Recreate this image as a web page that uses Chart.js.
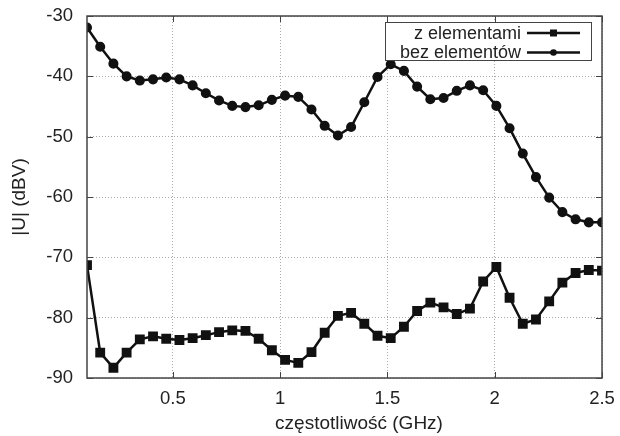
<!DOCTYPE html>
<html>
<head>
<meta charset="utf-8">
<script src="https://cdn.jsdelivr.net/npm/chart.js@4/dist/chart.umd.min.js"></script>
<style>
  html, body { margin: 0; padding: 0; background: #fff; }
  #wrap { width: 620px; height: 436px; }
</style>
</head>
<body>
<div id="wrap"><canvas id="c"></canvas></div>
<script>
// --- DANE ---
const N_POINTS = 40;
const F_START = 0.1, F_END = 2.5;
const X_TICKS = [0.5, 1, 1.5, 2, 2.5];
const Y_TICKS = [-90, -80, -70, -60, -50, -40, -30];

const LABEL_Z = 'z elementami';
const LABEL_BEZ = 'bez elementów';
const X_TITLE = 'częstotliwość (GHz)';
const Y_TITLE = '|U| (dBV)';

// z elementami (kwadraty)
const zElementami = [
  -71.3, -85.8, -88.3, -85.8, -83.6, -83.1, -83.5, -83.7, -83.4, -82.9,
  -82.4, -82.1, -82.2, -83.5, -85.4, -87.0, -87.5, -85.7, -82.5, -79.7,
  -79.2, -81.0, -83.0, -83.4, -81.5, -78.9, -77.5, -78.3, -79.4, -78.5,
  -74.0, -71.6, -76.7, -81.0, -80.3, -77.3, -74.2, -72.6, -72.1, -72.2
];

// bez elementów (kółka)
const bezElementow = [
  -31.9, -35.1, -37.9, -40.0, -40.7, -40.5, -40.2, -40.5, -41.5, -42.8,
  -44.0, -44.9, -45.1, -44.8, -43.9, -43.2, -43.4, -45.5, -48.2, -49.8,
  -48.4, -44.3, -40.1, -38.0, -39.1, -41.7, -43.8, -43.6, -42.4, -41.5,
  -42.3, -44.9, -48.6, -52.8, -56.7, -60.1, -62.5, -63.7, -64.2, -64.2
];

// częstotliwości: równomiernie od 0.1 do 2.5 GHz (oś pomiarowa)
const freqs = [];
for (let i = 0; i < N_POINTS; i++) {
  freqs.push(F_START + i * (F_END - F_START) / (N_POINTS - 1));
}

const toXY = (vals) => vals.map((v, i) => ({ x: freqs[i], y: v }));

const FONT = "'Liberation Sans', Arial, sans-serif";
const TEXT_COLOR = '#222';

// --- PLUGINY ---
// krótkie znaczniki podziałki do wewnątrz (na wszystkich czterech bokach) + ramka
const innerTicks = {
  id: 'innerTicks',
  afterDatasetsDraw(chart) {
    const { ctx, chartArea: a, scales } = chart;
    const len = 6;
    ctx.save();
    ctx.strokeStyle = '#444';
    ctx.lineWidth = 1;
    ctx.beginPath();
    X_TICKS.forEach(t => {
      const px = Math.round(scales.x.getPixelForValue(t)) + 0.5;
      ctx.moveTo(px, a.bottom); ctx.lineTo(px, a.bottom - len);
      ctx.moveTo(px, a.top); ctx.lineTo(px, a.top + len);
    });
    Y_TICKS.forEach(t => {
      const py = Math.round(scales.y.getPixelForValue(t)) + 0.5;
      ctx.moveTo(a.left, py); ctx.lineTo(a.left + len, py);
      ctx.moveTo(a.right, py); ctx.lineTo(a.right - len, py);
    });
    ctx.stroke();
    ctx.lineWidth = 1.5;
    ctx.strokeRect(a.left, a.top, a.right - a.left, a.bottom - a.top);

    // podpis osi X (w oryginale lekko przesunięty w prawo)
    ctx.fillStyle = TEXT_COLOR;
    ctx.font = '19px ' + FONT;
    ctx.textAlign = 'center';
    ctx.textBaseline = 'middle';
    ctx.fillText(X_TITLE, 359, 424);
    ctx.restore();
  }
};

// legenda w stylu gnuplot: tekst wyrównany do prawej, potem linia z markerem
const gnuLegend = {
  id: 'gnuLegend',
  afterDatasetsDraw(chart) {
    const { ctx } = chart;
    const box = { x: 385.5, y: 22.5, w: 206, h: 38 };
    ctx.save();
    ctx.fillStyle = '#fff';
    ctx.fillRect(box.x, box.y, box.w, box.h);
    ctx.strokeStyle = '#444';
    ctx.lineWidth = 1;
    ctx.strokeRect(box.x, box.y, box.w, box.h);
    ctx.font = '18px ' + FONT;
    ctx.textAlign = 'right';
    ctx.textBaseline = 'middle';
    chart.data.datasets.forEach((ds, i) => {
      const y = box.y + 10.5 + i * 19.5;
      ctx.fillStyle = TEXT_COLOR;
      ctx.fillText(ds.label, 521, y + 1);
      ctx.strokeStyle = ds.borderColor;
      ctx.lineWidth = 2.5;
      ctx.beginPath();
      ctx.moveTo(527, y); ctx.lineTo(580, y);
      ctx.stroke();
      ctx.fillStyle = ds.borderColor;
      ctx.beginPath();
      if (ds.pointStyle === 'rect') {
        ctx.rect(553.5 - 3.5, y - 3.5, 7, 7);
      } else {
        ctx.arc(553.5, y, 3.3, 0, Math.PI * 2);
      }
      ctx.fill();
    });
    ctx.restore();
  }
};

// --- WYKRES ---
const ctx = document.getElementById('c').getContext('2d');
new Chart(ctx, {
  type: 'scatter',
  data: {
    datasets: [
      {
        label: LABEL_Z,
        data: toXY(zElementami),
        showLine: true,
        borderColor: '#111',
        backgroundColor: '#111',
        borderWidth: 2.5,
        pointStyle: 'rect',
        pointRadius: 5.2,
        pointHoverRadius: 5.2,
        tension: 0
      },
      {
        label: LABEL_BEZ,
        data: toXY(bezElementow),
        showLine: true,
        borderColor: '#111',
        backgroundColor: '#111',
        borderWidth: 2.5,
        pointStyle: 'circle',
        pointRadius: 3.8,
        pointHoverRadius: 3.8,
        tension: 0
      }
    ]
  },
  options: {
    responsive: true,
    maintainAspectRatio: false,
    animation: false,
    layout: { padding: { left: 0, right: 18, top: 16, bottom: 0 } },
    plugins: {
      legend: { display: false },
      tooltip: { enabled: false }
    },
    scales: {
      x: {
        type: 'linear',
        min: F_START,
        max: F_END,
        afterBuildTicks: (s) => { s.ticks = X_TICKS.map(v => ({ value: v })); },
        afterFit: (s) => { s.height = 58; s.paddingLeft = 0; s.paddingRight = 0; },
        border: { display: false, dash: [1, 2] },
        grid: { color: '#aaa', lineWidth: 1, drawTicks: false },
        ticks: {
          padding: 10,
          color: TEXT_COLOR,
          font: { family: FONT, size: 18.5 },
          maxRotation: 0,
          callback: (v) => String(v)
        },
        title: { display: false }
      },
      y: {
        min: -90,
        max: -30,
        afterBuildTicks: (s) => { s.ticks = Y_TICKS.map(v => ({ value: v })); },
        afterFit: (s) => { s.width = 87; s.paddingTop = 0; s.paddingBottom = 0; },
        border: { display: false, dash: [1, 2] },
        grid: { color: '#aaa', lineWidth: 1, drawTicks: false },
        ticks: {
          padding: 14,
          color: TEXT_COLOR,
          font: { family: FONT, size: 18.5 },
          callback: (v) => String(v)
        },
        title: {
          display: true,
          text: Y_TITLE,
          color: TEXT_COLOR,
          font: { family: FONT, size: 19 },
          padding: { top: 8, bottom: 0 }
        }
      }
    }
  },
  plugins: [innerTicks, gnuLegend]
});
</script>
</body>
</html>
